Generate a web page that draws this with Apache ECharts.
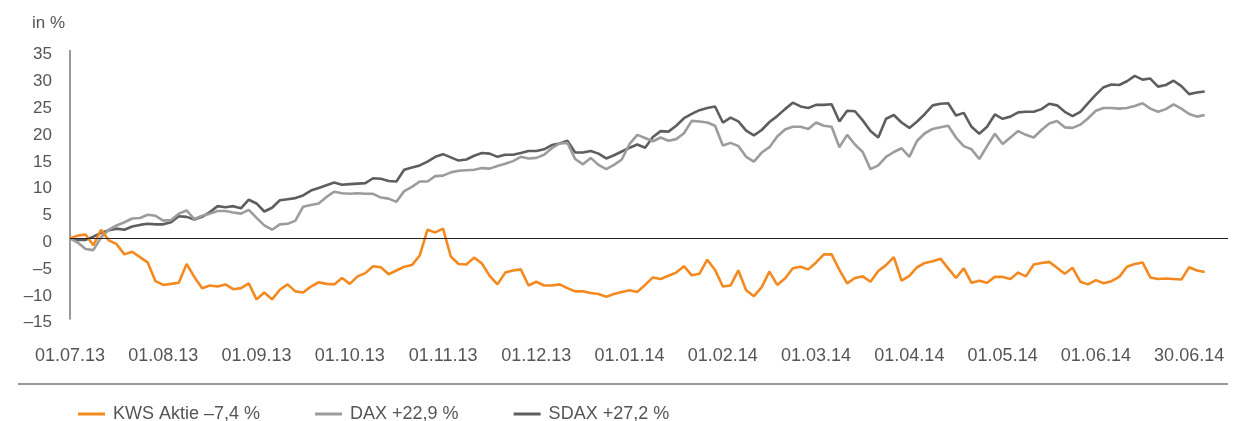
<!DOCTYPE html>
<html>
<head>
<meta charset="utf-8">
<title>KWS Aktie vs. DAX / SDAX</title>
<script src="https://cdn.jsdelivr.net/npm/echarts@6/dist/echarts.min.js"></script>
<style>
  html, body { margin: 0; padding: 0; background: #fff; }
  #chart { width: 1258px; height: 421px; }
</style>
</head>
<body>
<div id="chart"></div>
<script>
// Beschriftung der x-Achse, eine Marke alle 12 Datenpunkte
var tickLabels = ['01.07.13', '01.08.13', '01.09.13', '01.10.13', '01.11.13', '01.12.13',
    '01.01.14', '01.02.14', '01.03.14', '01.04.14', '01.05.14', '01.06.14', '30.06.14'];
var labelStep = 12;
var axisSlots = 150; // Kategorien inkl. Leerraum rechts der Linien

var seriesNames = ['KWS Aktie –7,4 %', 'DAX +22,9 %', 'SDAX +27,2 %'];

// Wertentwicklung in %
var kws = [
    0, 0.5, 0.7, -1.3, 1.6, -0.4, -1.1, -3.0, -2.5, -3.5,
    -4.5, -8.0, -8.7, -8.5, -8.3, -4.8, -7.2, -9.3, -8.8, -9.0,
    -8.6, -9.5, -9.3, -8.4, -11.4, -10.1, -11.4, -9.6, -8.6, -9.9,
    -10.1, -9.0, -8.2, -8.5, -8.6, -7.4, -8.5, -7.1, -6.5, -5.2,
    -5.4, -6.7, -6.0, -5.3, -5.0, -3.2, 1.6, 1.1, 1.8, -3.4,
    -4.8, -4.9, -3.6, -4.7, -7.0, -8.6, -6.4, -6.0, -5.8, -8.8,
    -8.1, -8.8, -8.8, -8.6, -9.3, -9.9, -9.9, -10.2, -10.4, -10.9,
    -10.4, -10.0, -9.7, -10.0, -8.7, -7.3, -7.6, -7.0, -6.4, -5.2,
    -6.9, -6.6, -4.0, -5.9, -9.0, -8.8, -6.0, -9.7, -10.8, -9.1,
    -6.2, -8.7, -7.5, -5.6, -5.3, -5.8, -4.5, -3.0, -3.0, -5.9,
    -8.4, -7.4, -7.1, -8.1, -6.1, -5.0, -3.5, -7.9, -7.0, -5.4,
    -4.6, -4.3, -3.8, -5.6, -7.4, -5.6, -8.3, -7.9, -8.3, -7.2,
    -7.2, -7.6, -6.4, -7.1, -4.9, -4.6, -4.4, -5.5, -6.6, -5.5,
    -8.1, -8.6, -7.8, -8.4, -8.0, -7.2, -5.3, -4.8, -4.5, -7.3,
    -7.6, -7.5, -7.6, -7.7, -5.4, -6.0, -6.3
];
var dax = [
    0, -0.8, -2.0, -2.2, 0.2, 1.6, 2.4, 3.0, 3.7, 3.8,
    4.4, 4.2, 3.3, 3.4, 4.6, 5.2, 3.6, 4.2, 4.6, 5.1,
    5.1, 4.8, 4.6, 5.3, 3.8, 2.4, 1.6, 2.6, 2.7, 3.3,
    5.9, 6.2, 6.5, 7.7, 8.7, 8.4, 8.3, 8.4, 8.3, 8.3,
    7.6, 7.4, 6.8, 8.8, 9.6, 10.6, 10.6, 11.6, 11.7, 12.3,
    12.6, 12.7, 12.8, 13.1, 13.0, 13.5, 13.9, 14.4, 15.2, 14.9,
    15.0, 15.6, 16.8, 17.7, 17.8, 14.8, 13.8, 15.0, 13.7, 12.9,
    13.7, 14.7, 17.6, 19.3, 18.7, 18.1, 18.8, 18.2, 18.5, 19.6,
    21.9, 21.8, 21.6, 21.0, 17.3, 17.8, 17.2, 15.2, 14.3, 16.0,
    17.0, 19.0, 20.3, 20.8, 20.8, 20.4, 21.6, 21.0, 20.8, 17.0,
    19.3, 17.5, 16.1, 12.9, 13.6, 15.2, 16.1, 16.8, 15.2, 18.2,
    19.6, 20.4, 20.7, 21.0, 18.8, 17.2, 16.6, 14.8, 17.2, 19.5,
    17.6, 18.8, 20.0, 19.3, 18.8, 20.2, 21.4, 21.9, 20.7, 20.6,
    21.2, 22.4, 23.8, 24.3, 24.3, 24.2, 24.3, 24.7, 25.2, 24.2,
    23.6, 24.1, 25.0, 24.2, 23.2, 22.7, 23.0
];
var sdax = [
    0, -0.3, -0.3, 0.3, 1.0, 1.5, 1.8, 1.6, 2.2, 2.5,
    2.7, 2.6, 2.6, 3.0, 4.1, 4.0, 3.5, 4.0, 4.9, 6.0,
    5.8, 6.0, 5.6, 7.2, 6.5, 5.0, 5.7, 7.1, 7.3, 7.5,
    8.0, 8.9, 9.4, 9.9, 10.4, 10.0, 10.1, 10.2, 10.3, 11.2,
    11.1, 10.7, 10.6, 12.8, 13.2, 13.6, 14.3, 15.2, 15.7, 15.1,
    14.5, 14.7, 15.4, 15.9, 15.8, 15.2, 15.6, 15.6, 15.9, 16.3,
    16.3, 16.6, 17.4, 17.7, 18.2, 16.0, 16.0, 16.3, 15.8, 14.9,
    15.5, 16.2, 16.9, 17.5, 16.9, 18.9, 20.0, 19.9, 21.0, 22.4,
    23.2, 23.9, 24.3, 24.6, 21.6, 22.5, 21.8, 20.1, 19.2, 20.2,
    21.7, 22.8, 24.1, 25.3, 24.6, 24.3, 24.9, 24.9, 25.0, 21.8,
    23.8, 23.7, 22.0, 20.0, 18.8, 22.3, 23.0, 21.6, 20.6, 21.8,
    23.2, 24.8, 25.1, 25.2, 22.9, 23.4, 20.8, 19.5, 20.8, 23.1,
    22.3, 22.7, 23.5, 23.6, 23.6, 24.1, 25.1, 24.8, 23.6, 22.8,
    23.6, 25.2, 26.8, 28.2, 28.7, 28.6, 29.3, 30.3, 29.6, 29.8,
    28.3, 28.6, 29.4, 28.4, 26.9, 27.2, 27.4
];

var FONT = '"Liberation Sans", Arial, Helvetica, sans-serif';
var TEXT = '#555555';

var categories = [];
for (var i = 0; i < axisSlots; i++) {
    categories.push(String(i));
}

var chart = echarts.init(document.getElementById('chart'));

var lineSeries = function (name, data, color, extra) {
    var s = {
        name: name,
        type: 'line',
        data: data,
        symbol: 'none',
        smooth: false,
        lineStyle: { color: color, width: 2.6 },
        itemStyle: { color: color }
    };
    return Object.assign(s, extra || {});
};

chart.setOption({
    animation: false,
    textStyle: { fontFamily: FONT },
    title: {
        text: 'in %',
        left: 27,
        top: 10,
        textStyle: { fontSize: 17, fontWeight: 'normal', color: TEXT, fontFamily: FONT }
    },
    grid: { left: 70, right: 30, top: 50.7, bottom: 102.3, containLabel: false },
    xAxis: {
        type: 'category',
        data: categories,
        boundaryGap: false,
        axisLine: { show: false, onZero: false },
        axisTick: { show: false },
        splitLine: { show: false },
        axisLabel: {
            interval: function (index) {
                return index % labelStep === 0 && index / labelStep < tickLabels.length;
            },
            formatter: function (value, index) {
                return tickLabels[index / labelStep] || '';
            },
            margin: 28,
            fontSize: 18,
            color: TEXT,
            fontFamily: FONT
        }
    },
    yAxis: {
        type: 'value',
        min: -15,
        max: 35,
        interval: 5,
        axisLine: { show: true, lineStyle: { color: '#9a9a9a', width: 2 } },
        axisTick: { show: false },
        splitLine: { show: false },
        axisLabel: {
            margin: 18,
            fontSize: 17,
            color: TEXT,
            fontFamily: FONT,
            verticalAlign: 'top',
            lineHeight: 8,
            formatter: function (v) {
                return String(v).replace('-', '–');
            }
        }
    },
    legend: {
        data: seriesNames,
        left: 73,
        top: 400,
        icon: 'rect',
        itemWidth: 27,
        itemHeight: 3,
        itemGap: 55,
        textStyle: { fontSize: 18, color: TEXT, fontFamily: FONT, padding: [0, 0, 0, 3] }
    },
    graphic: [{
        type: 'line',
        silent: true,
        shape: { x1: 18, y1: 384, x2: 1228, y2: 384 },
        style: { stroke: '#333333', lineWidth: 1.2 }
    }],
    series: [
        lineSeries(seriesNames[2], sdax, '#5e5e5e', {
            markLine: {
                silent: true,
                symbol: ['none', 'none'],
                label: { show: false },
                lineStyle: { color: '#222222', width: 1.2, type: 'solid' },
                data: [{ yAxis: 0 }]
            }
        }),
        lineSeries(seriesNames[1], dax, '#9c9c9c'),
        lineSeries(seriesNames[0], kws, '#f4891f')
    ]
});
</script>
</body>
</html>
